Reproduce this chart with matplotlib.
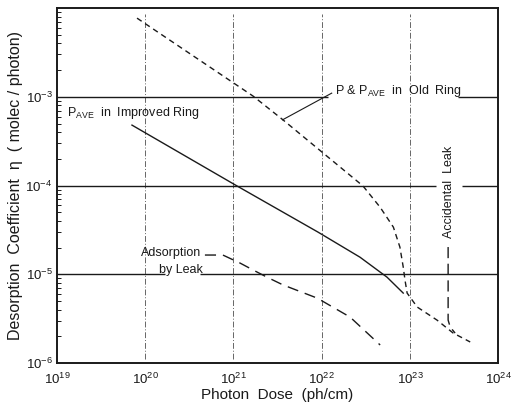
import matplotlib
matplotlib.use("Agg")
import matplotlib.pyplot as plt
from matplotlib.ticker import LogLocator, NullFormatter
import numpy as np

plt.rcParams['font.family'] = ['Liberation Sans', 'DejaVu Sans']
plt.rcParams['mathtext.fontset'] = 'custom'
plt.rcParams['mathtext.rm'] = 'Liberation Sans'
plt.rcParams['mathtext.it'] = 'Liberation Sans:italic'
plt.rcParams['mathtext.default'] = 'regular'

# Photon dose (ph/cm) and desorption coefficient (molec/photon) for each curve
old_ring_dose = [8.1e19, 1.67e21, 3.65e21, 2.94e22, 4.6e22, 6.5e22, 7.7e22,
                 8.4e22, 8.8e22, 9.3e22, 1.21e23, 2.03e23, 3.09e23, 4.82e23]
old_ring_eta = [7.7e-3, 1.02e-3, 5.5e-4, 9.9e-5, 5.7e-5, 3.4e-5, 2.03e-5,
                1.21e-5, 8.6e-6, 6.15e-6, 4.28e-6, 3.05e-6, 2.18e-6, 1.73e-6]

improved_dose = [7.1e19, 1.1e21, 9.1e21, 2.72e22, 5.5e22, 8.4e22]
improved_eta = [4.8e-4, 9.9e-5, 2.99e-5, 1.56e-5, 9.3e-6, 6.15e-6]

adsorption_dose = [4.76e20, 7.6e20, 1.19e21, 1.67e21, 2.4e21, 3.65e21,
                   8.9e21, 2.1e22, 4.6e22]
adsorption_eta = [1.65e-5, 1.65e-5, 1.34e-5, 1.12e-5, 9.3e-6, 7.6e-6,
                  5.4e-6, 3.3e-6, 1.6e-6]

leak_dose = [2.71e23, 2.71e23, 2.86e23, 3.25e23]
leak_eta = [2.03e-5, 3.05e-6, 2.55e-6, 2.18e-6]

x_decades = [1e19, 1e20, 1e21, 1e22, 1e23, 1e24]
y_decades = [1e-6, 1e-5, 1e-4, 1e-3]

fig = plt.figure(figsize=(5.12, 4.03), dpi=100)
ax = fig.add_axes([0.111, 0.099, 0.862, 0.881])
ax.set_xscale('log')
ax.set_yscale('log')
ax.set_xlim(1e19, 1e24)
ax.set_ylim(1e-6, 1e-2)

ink = '#1a1a1a'

# vertical dash-dot guides at each interior decade
for xv in x_decades[1:-1]:
    ax.plot([xv, xv], [1.12e-6, 8.5e-3], color='#666666', lw=0.7,
            linestyle=(0, (6, 2, 1, 2)), zorder=1)

# horizontal decade lines, broken where labels sit
ax.hlines(1e-3, 1e19, 1.17e22, color=ink, lw=1.0, zorder=1)
ax.hlines(1e-3, 3.5e23, 1e24, color=ink, lw=1.0, zorder=1)
ax.hlines(1e-4, 1e19, 2.0e23, color=ink, lw=1.0, zorder=1)
ax.hlines(1e-4, 3.9e23, 1e24, color=ink, lw=1.0, zorder=1)
ax.hlines(1e-5, 1e19, 1.7e20, color=ink, lw=1.0, zorder=1)
ax.hlines(1e-5, 4.2e20, 1e24, color=ink, lw=1.0, zorder=1)

# curves
ax.plot(old_ring_dose, old_ring_eta, color=ink, lw=1.0,
        linestyle=(0, (4, 3)), zorder=3)
ax.plot(improved_dose, improved_eta, color=ink, lw=1.0, zorder=3)
ax.plot(adsorption_dose, adsorption_eta, color=ink, lw=1.0,
        linestyle=(0, (8, 5)), zorder=3)
ax.plot(leak_dose, leak_eta, color=ink, lw=1.0,
        linestyle=(0, (8, 4)), zorder=3)

# leader for the old-ring label
ax.plot([1.3e22, 3.6e21], [1.1e-3, 5.5e-4], color=ink, lw=0.8, zorder=3)

# annotations
ax.text(1.3e19, 6.5e-4, r'P$_{AVE}$  in  Improved Ring', fontsize=9,
        color=ink, ha='left', va='center')
ax.text(1.4e22, 1.15e-3, r'P & P$_{AVE}$  in  Old  Ring', fontsize=9,
        color=ink, ha='left', va='center')
ax.text(4.3e20, 1.75e-5, 'Adsorption', fontsize=9, color=ink,
        ha='right', va='center')
ax.text(4.5e20, 1.12e-5, 'by Leak', fontsize=9, color=ink,
        ha='right', va='center')
ax.text(2.8e23, 8.5e-5, 'Accidental  Leak', fontsize=9, color=ink,
        rotation=90, ha='center', va='center')

ax.set_xticks(x_decades)
ax.set_yticks(y_decades + [1e-2])
ax.set_yticklabels([r'$10^{-6}$', r'$10^{-5}$', r'$10^{-4}$', r'$10^{-3}$', ''])
ax.set_xticklabels([r'$10^{%d}$' % int(np.log10(v)) for v in x_decades])
ax.yaxis.set_minor_locator(LogLocator(base=10, subs=np.arange(2, 10)))
ax.yaxis.set_minor_formatter(NullFormatter())
ax.xaxis.set_minor_locator(LogLocator(base=10, subs=[]))
ax.tick_params(axis='both', which='major', direction='in', length=0,
               labelsize=9.5, colors=ink, pad=6)
ax.tick_params(axis='y', which='minor', direction='in', length=3, width=0.7,
               colors=ink)
ax.tick_params(axis='y', which='major', pad=3)

for s in ax.spines.values():
    s.set_linewidth(1.4)
    s.set_color(ink)

ax.set_xlabel('Photon  Dose  (ph/cm)', fontsize=11, color=ink, labelpad=1)
ax.set_ylabel('Desorption  Coefficient  \u03b7  ( molec / photon)',
              fontsize=11.5, color=ink, labelpad=2)

fig.savefig('out.png', dpi=100, facecolor='white')
